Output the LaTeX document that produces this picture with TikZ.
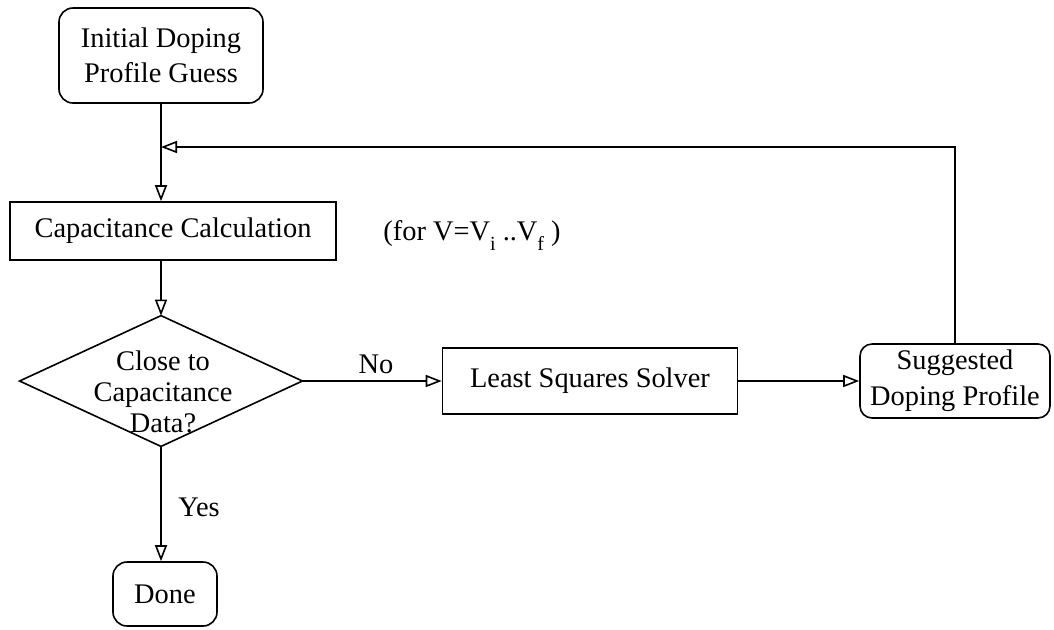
\documentclass[tikz,border=0pt]{standalone}
\usepackage{fontspec}
\setmainfont{Liberation Serif}
\usetikzlibrary{arrows.meta}
\begin{document}
\begin{tikzpicture}[x=0.5pt,y=-0.5pt,
  every node/.style={font=\fontsize{14.2}{17.5}\selectfont, inner sep=0pt},
  box/.style={draw, line width=0.8pt, align=center},
  rbox/.style={box, rounded corners=7pt},
  arr/.style={line width=0.8pt, -{Triangle[open,length=8pt,width=6pt]}}]
\useasboundingbox (0,0) rectangle (1054,629);
\node[rbox, minimum width=102pt, minimum height=47.5pt] (init) at (161,55.5) {Initial Doping\\Profile Guess};
\node[box, minimum width=163pt, minimum height=29pt] (calc) at (173,231) {Capacitance Calculation};
\node[minimum width=141pt, minimum height=65pt] (dia) at (161,381) {};
\draw[line width=0.8pt] (dia.north) -- (dia.east) -- (dia.south) -- (dia.west) -- cycle;
\node[align=center, font=\fontsize{14.2}{15.5}\selectfont] (diatext) at (163,392) {Close to\\Capacitance\\Data?};
\node[box, minimum width=147.5pt, minimum height=33pt] (least) at (590,381) {Least Squares Solver};
\node[rbox, rounded corners=6pt, minimum width=95pt, minimum height=37pt, font=\fontsize{14.2}{18}\selectfont] (sugg) at (955,381) {Suggested\\Doping Profile};
\node[rbox, minimum width=52pt, minimum height=32pt] (done) at (165,594) {Done};
\node[anchor=base west] (cond) at (383,240) {(for V=V\raisebox{-5pt}{\fontsize{10}{10}\selectfont i} ..V\raisebox{-5pt}{\fontsize{10}{10}\selectfont f} )};
\coordinate (fb) at (161,147);
\draw[arr] (init.south) -- (init.south |- calc.north);
\draw[arr] (sugg.north) |- (fb);
\draw[arr] (dia.north |- calc.south) -- (dia.north);
\draw[arr] (dia.east) -- (least.west);
\draw[arr] (least.east) -- (sugg.west);
\draw[arr] (dia.south) -- (dia.south |- done.north);
\node (no) at (376,364) {No};
\node (yes) at (199,507) {Yes};
\end{tikzpicture}
\end{document}
